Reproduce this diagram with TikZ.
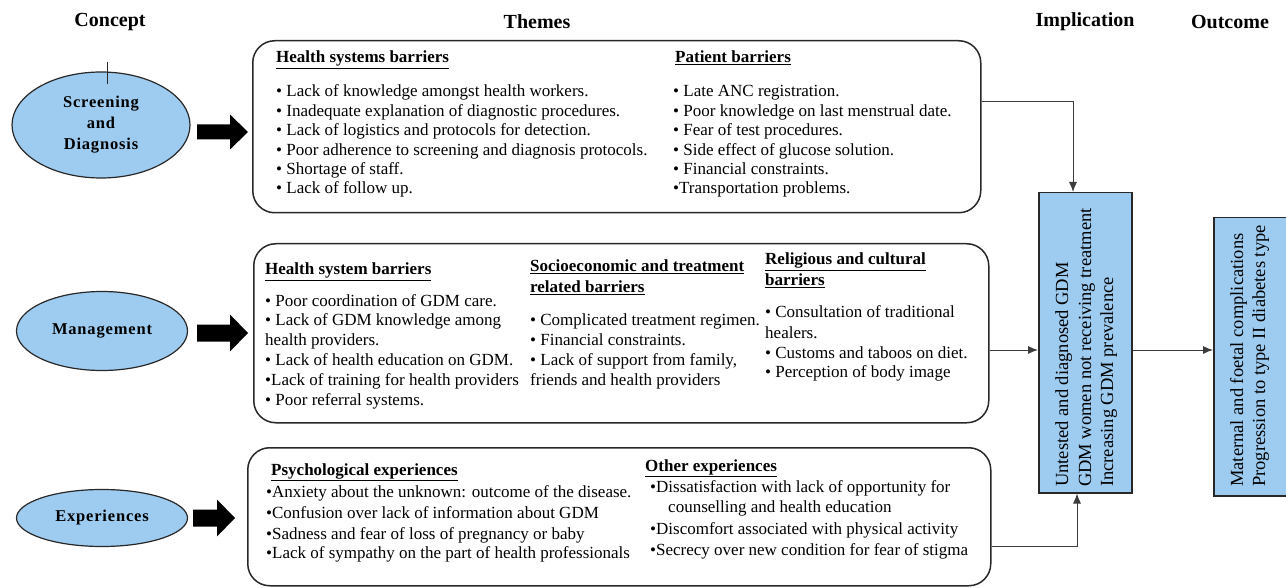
\documentclass[tikz,border=0pt]{standalone}
\usepackage{fontspec}
\setmainfont{Liberation Serif}
\usetikzlibrary{shapes.geometric,arrows.meta}
\definecolor{fillblue}{RGB}{158,203,240}
\definecolor{edgecol}{RGB}{40,40,40}
\definecolor{linkcol}{RGB}{60,60,60}
\begin{document}
\begin{tikzpicture}[x=1pt,y=-1pt,
  concept/.style={ellipse,draw=edgecol,line width=1.2pt,fill=fillblue,inner sep=0pt,
    font=\fontsize{16.5}{21}\selectfont\bfseries\addfontfeatures{LetterSpace=5},align=center},
  themebox/.style={draw=edgecol,line width=1.5pt,rounded corners=22pt,inner sep=0pt,anchor=north west},
  bluebox/.style={draw=edgecol,line width=1.5pt,fill=fillblue,inner sep=0pt,anchor=north west},
  colhead/.style={font=\fontsize{20}{22}\selectfont\bfseries,inner sep=0pt},
  txt/.style={anchor=base west,inner sep=0pt,font=\fontsize{17}{19}\selectfont},
  stxt/.style={anchor=base west,inner sep=0pt,font=\fontsize{17}{20}\selectfont},
  htxt/.style={anchor=base west,inner sep=0pt,font=\fontsize{17}{19}\selectfont\bfseries},
  rtxt/.style={anchor=base west,inner sep=0pt,rotate=90,font=\fontsize{18.5}{20}\selectfont},
  link/.style={draw=linkcol,line width=0.9pt,-{Latex[length=10pt,width=8pt]}},
  blockarrow/.style={fill=black}
]
\useasboundingbox (0,0) rectangle (1286,588);
\clip (0,0) rectangle (1286,588);

% column headings
\node[colhead] (hconcept) at (110,22) {Concept};
\node[colhead] (hthemes) at (537,22) {Themes};
\node[colhead] (himpl) at (1085,22) {Implication};
\node[colhead] (hout) at (1230,22) {Outcome};

% concepts
\node[concept,minimum width=178pt,minimum height=106pt] (c1) at (101,125) {Screening\\and\\Diagnosis};
\draw[edgecol,line width=0.8pt] (c1.north) ++(6,-9) coordinate (tk1) -- ++(0,22) coordinate (tk2);
\node[concept,minimum width=171pt,minimum height=79pt] (c2) at (102,331) {Management};
\node[concept,minimum width=171pt,minimum height=57pt] (c3) at (102,518) {Experiences};

% block arrows
\coordinate (a1) at (197,132);
\coordinate (a2) at (197,333);
\coordinate (a3) at (193,518);
\fill[blockarrow] (a1) ++(0,-7.5) -- ++(33,0) -- ++(0,-10) -- ++(18,17.5) -- ++(-18,17.5) -- ++(0,-10) -- ++(-33,0) -- cycle;
\fill[blockarrow] (a2) ++(0,-8.5) -- ++(33,0) -- ++(0,-10) -- ++(18,18.5) -- ++(-18,18.5) -- ++(0,-10) -- ++(-33,0) -- cycle;
\fill[blockarrow] (a3) ++(0,-8.5) -- ++(24,0) -- ++(0,-10) -- ++(18,18.5) -- ++(-18,18.5) -- ++(0,-10) -- ++(-24,0) -- cycle;

% theme boxes
\node[themebox,minimum width=728pt,minimum height=172pt] (b1) at (252,40) {};
\node[themebox,minimum width=735pt,minimum height=179pt] (b2) at (253,243) {};
\node[themebox,minimum width=743pt,minimum height=138pt] (b3) at (247,447) {};

% box 1 text
\node[htxt] (t1h) at (276,63) {\underline{Health systems barriers}};
\node[txt] (t1a) at (276,97) {\textbullet\ Lack of knowledge amongst health workers.};
\node[txt] (t1b) at (276,116.4) {\textbullet\ Inadequate explanation of diagnostic procedures.};
\node[txt] (t1c) at (276,135.8) {\textbullet\ Lack of logistics and protocols for detection.};
\node[txt] (t1d) at (276,155.2) {\textbullet\ Poor adherence to screening and diagnosis protocols.};
\node[txt] (t1e) at (276,174.6) {\textbullet\ Shortage of staff.};
\node[txt] (t1f) at (276,194) {\textbullet\ Lack of follow up.};
\node[htxt] (t2h) at (675,63) {\underline{Patient barriers}};
\node[txt] (t2a) at (673,97) {\textbullet\ Late ANC registration.};
\node[txt] (t2b) at (673,116.4) {\textbullet\ Poor knowledge on last menstrual date.};
\node[txt] (t2c) at (673,135.8) {\textbullet\ Fear of test procedures.};
\node[txt] (t2d) at (673,155.2) {\textbullet\ Side effect of glucose solution.};
\node[txt] (t2e) at (673,174.6) {\textbullet\ Financial constraints.};
\node[txt] (t2f) at (673,194) {\textbullet Transportation problems.};

% box 2 text
\node[htxt] (t3h) at (265,275) {\underline{Health system barriers}};
\node[txt] (t3a) at (265,306) {\textbullet\ Poor coordination of GDM care.};
\node[txt] (t3b) at (265,325) {\textbullet\ Lack of GDM knowledge among};
\node[txt] (t3c) at (265,345) {health providers.};
\node[txt] (t3d) at (265,365) {\textbullet\ Lack of health education on GDM.};
\node[txt] (t3e) at (265,385) {\textbullet Lack of training for health providers};
\node[txt] (t3f) at (265,405) {\textbullet\ Poor referral systems.};
\node[htxt] (t4h) at (530,272) {\underline{Socioeconomic and treatment}};
\node[htxt] (t4i) at (530,293) {\underline{related barriers}};
\node[txt] (t4a) at (530,326) {\textbullet\ Complicated treatment regimen.};
\node[txt] (t4b) at (530,345) {\textbullet\ Financial constraints.};
\node[txt] (t4c) at (530,365) {\textbullet\ Lack of support from family,};
\node[txt] (t4d) at (530,385) {friends and health providers};
\node[htxt] (t5h) at (765,265) {\underline{Religious and cultural}};
\node[htxt] (t5i) at (765,286) {\underline{barriers}};
\node[txt] (t5a) at (765,318) {\textbullet\ Consultation of traditional};
\node[txt] (t5b) at (765,338) {healers.};
\node[txt] (t5c) at (765,358) {\textbullet\ Customs and taboos on diet.};
\node[txt] (t5d) at (765,377) {\textbullet\ Perception of body image};

% box 3 text
\node[htxt] (t6h) at (271,475) {\underline{Psychological experiences}};
\node[stxt] (t6a) at (266,497) {\textbullet Anxiety about the unknown: outcome of the disease.};
\node[stxt] (t6b) at (266,518) {\textbullet Confusion over lack of information about GDM};
\node[stxt] (t6c) at (266,539) {\textbullet Sadness and fear of loss of pregnancy or baby};
\node[stxt] (t6d) at (266,558) {\textbullet Lack of sympathy on the part of health professionals};
\node[htxt] (t7h) at (645,471) {\underline{Other experiences}};
\node[stxt] (t7a) at (650,492) {\textbullet Dissatisfaction with lack of opportunity for};
\node[stxt] (t7b) at (668,512) {counselling and health education};
\node[stxt] (t7c) at (650,534) {\textbullet Discomfort associated with physical activity};
\node[stxt] (t7d) at (650,555) {\textbullet Secrecy over new condition for fear of stigma};

% implication and outcome boxes
\node[bluebox,minimum width=93pt,minimum height=300pt] (impl) at (1038,192) {};
\node[rtxt] (i1) at (1068,487) {Untested and diagnosed GDM};
\node[rtxt] (i2) at (1091,487) {GDM women not receiving treatment};
\node[rtxt] (i3) at (1113,487) {Increasing GDM prevalence};
\node[bluebox,minimum width=90pt,minimum height=278pt] (outc) at (1213,217) {};
\node[rtxt] (o1) at (1243,487) {Maternal and foetal complications};
\node[rtxt] (o2) at (1265,487) {Progression to type II diabetes type};

% connectors
\coordinate (k1) at (1073,101);
\coordinate (k2) at (1000,350);
\coordinate (k3) at (1077,546);
\draw[link] (k1 -| b1.east) -- (k1) -- (impl.north -| k1);
\draw[link] (k2 -| b2.east) -- (k2 -| impl.west);
\draw[link] (k2 -| impl.east) -- (k2 -| outc.west);
\draw[link] (k3 -| b3.east) -- (k3) -- (impl.south -| k3);
\end{tikzpicture}
\end{document}
